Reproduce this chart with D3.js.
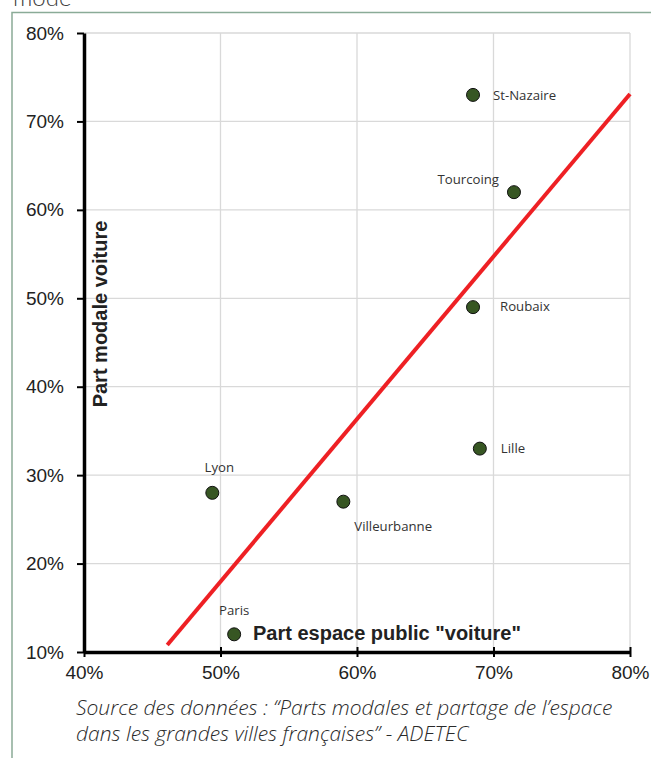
<!DOCTYPE html>
<html>
<head>
<meta charset="utf-8">
<script src="https://cdn.jsdelivr.net/npm/d3@7"></script>
<style>
  html, body { margin: 0; padding: 0; background: #fff; }
  svg { display: block; }
</style>
</head>
<body>
<svg id="chart" width="651" height="758"></svg>
<script>
// Villes et valeurs (part de l'espace public voiture, part modale voiture), en %
const cities = ["St-Nazaire", "Tourcoing", "Roubaix", "Lille", "Villeurbanne", "Lyon", "Paris"];
const espaceVoiture = [68.5, 71.5, 68.5, 69, 59, 49.4, 51];
const partModale = [73, 62, 49, 33, 27, 28, 12];

const xTicks = [40, 50, 60, 70, 80];
const yTicks = [10, 20, 30, 40, 50, 60, 70, 80];

// Droite de tendance : extrémités (x, y) en %
const trendX = [46.1, 80];
const trendY = [10.8, 73.1];

const svg = d3.select("#chart");
const W = 651, H = 758;

// Cadre
svg.append("text")
  .attr("x", 13).attr("y", 6)
  .attr("font-family", "Lato, 'Open Sans', sans-serif")
  .attr("font-weight", 300)
  .attr("font-size", 24)
  .attr("fill", "#404040")
  .text("mode");
svg.append("path")
  .attr("d", `M12,${H} V12.5 H${W}`)
  .attr("fill", "none")
  .attr("stroke", "#8aab97")
  .attr("stroke-width", 1.5);

const x = d3.scaleLinear().domain([40, 80]).range([84, 630]);
const y = d3.scaleLinear().domain([10, 80]).range([652, 33]);

// Grille
const grid = svg.append("g").attr("stroke", "#d9d9d9").attr("stroke-width", 1.3);
grid.selectAll("line.v").data(xTicks.slice(1)).join("line")
  .attr("x1", d => x(d)).attr("x2", d => x(d))
  .attr("y1", y(10)).attr("y2", y(80));
grid.selectAll("line.h").data(yTicks.slice(1)).join("line")
  .attr("x1", x(40)).attr("x2", x(80))
  .attr("y1", d => y(d)).attr("y2", d => y(d));

// Axes
const fmt = d => d + "%";
const xAxis = svg.append("g")
  .attr("transform", `translate(0,${y(10)})`)
  .call(d3.axisBottom(x).tickValues(xTicks).tickFormat(fmt).tickSizeInner(5).tickSizeOuter(0).tickPadding(5));
const yAxis = svg.append("g")
  .attr("transform", `translate(${x(40)},0)`)
  .call(d3.axisLeft(y).tickValues(yTicks).tickFormat(fmt).tickSizeInner(7).tickSizeOuter(0).tickPadding(13));
[xAxis, yAxis].forEach(g => {
  g.select(".domain").attr("stroke", "#000").attr("stroke-width", 3.5);
  g.selectAll(".tick line").attr("stroke", "#000").attr("stroke-width", 2);
  g.selectAll(".tick text")
    .attr("font-family", "'Liberation Sans', Arial, sans-serif")
    .attr("font-size", 19)
    .attr("fill", "#222");
});
xAxis.selectAll(".tick text").attr("dy", "0.9em");
xAxis.selectAll(".tick line").attr("y1", -5);

// Droite de tendance
svg.append("line")
  .attr("x1", x(trendX[0])).attr("y1", y(trendY[0]))
  .attr("x2", x(trendX[1])).attr("y2", y(trendY[1]))
  .attr("stroke", "#ee2024")
  .attr("stroke-width", 4);

// Points
const pts = cities.map((c, i) => ({ name: c, x: espaceVoiture[i], y: partModale[i] }));
svg.append("g").selectAll("circle").data(pts).join("circle")
  .attr("cx", d => x(d.x)).attr("cy", d => y(d.y))
  .attr("r", 6.5)
  .attr("fill", "#375623")
  .attr("stroke", "#111")
  .attr("stroke-width", 1);

// Étiquettes des villes : position relative au point
const labelPlace = {
  "St-Nazaire":   { dx: 20,  dy: 5,   anchor: "start" },
  "Tourcoing":    { dx: -15, dy: -8,  anchor: "end" },
  "Roubaix":      { dx: 27,  dy: 4,   anchor: "start" },
  "Lille":        { dx: 21,  dy: 4,   anchor: "start" },
  "Villeurbanne": { dx: 11,  dy: 29,  anchor: "start" },
  "Lyon":         { dx: 7,   dy: -21, anchor: "middle" },
  "Paris":        { dx: 0,   dy: -19, anchor: "middle" }
};
svg.append("g").selectAll("text").data(pts).join("text")
  .attr("x", d => x(d.x) + labelPlace[d.name].dx)
  .attr("y", d => y(d.y) + labelPlace[d.name].dy)
  .attr("text-anchor", d => labelPlace[d.name].anchor)
  .attr("font-family", "'Open Sans', 'Noto Sans', sans-serif")
  .attr("font-size", 13.2)
  .attr("fill", "#333")
  .text(d => d.name);

// Titres des axes
svg.append("text")
  .attr("transform", `translate(107,${314}) rotate(-90)`)
  .attr("text-anchor", "middle")
  .attr("font-family", "'Liberation Sans', Arial, sans-serif")
  .attr("font-weight", "bold")
  .attr("font-size", 20)
  .attr("fill", "#222")
  .text("Part modale voiture");
svg.append("text")
  .attr("x", 253).attr("y", 640)
  .attr("font-family", "'Liberation Sans', Arial, sans-serif")
  .attr("font-weight", "bold")
  .attr("font-size", 20)
  .attr("fill", "#222")
  .text("Part espace public \"voiture\"");

// Source
const src = svg.append("text")
  .attr("font-family", "'Open Sans', Lato, sans-serif")
  .attr("font-style", "italic")
  .attr("font-weight", 300)
  .attr("font-size", 21)
  .attr("fill", "#2a2a2a");
src.append("tspan").attr("x", 76).attr("y", 715)
  .text("Source des données :  “Parts modales et partage de l’espace");
src.append("tspan").attr("x", 76).attr("y", 741)
  .text("dans les grandes villes françaises” - ADETEC");
</script>
</body>
</html>
